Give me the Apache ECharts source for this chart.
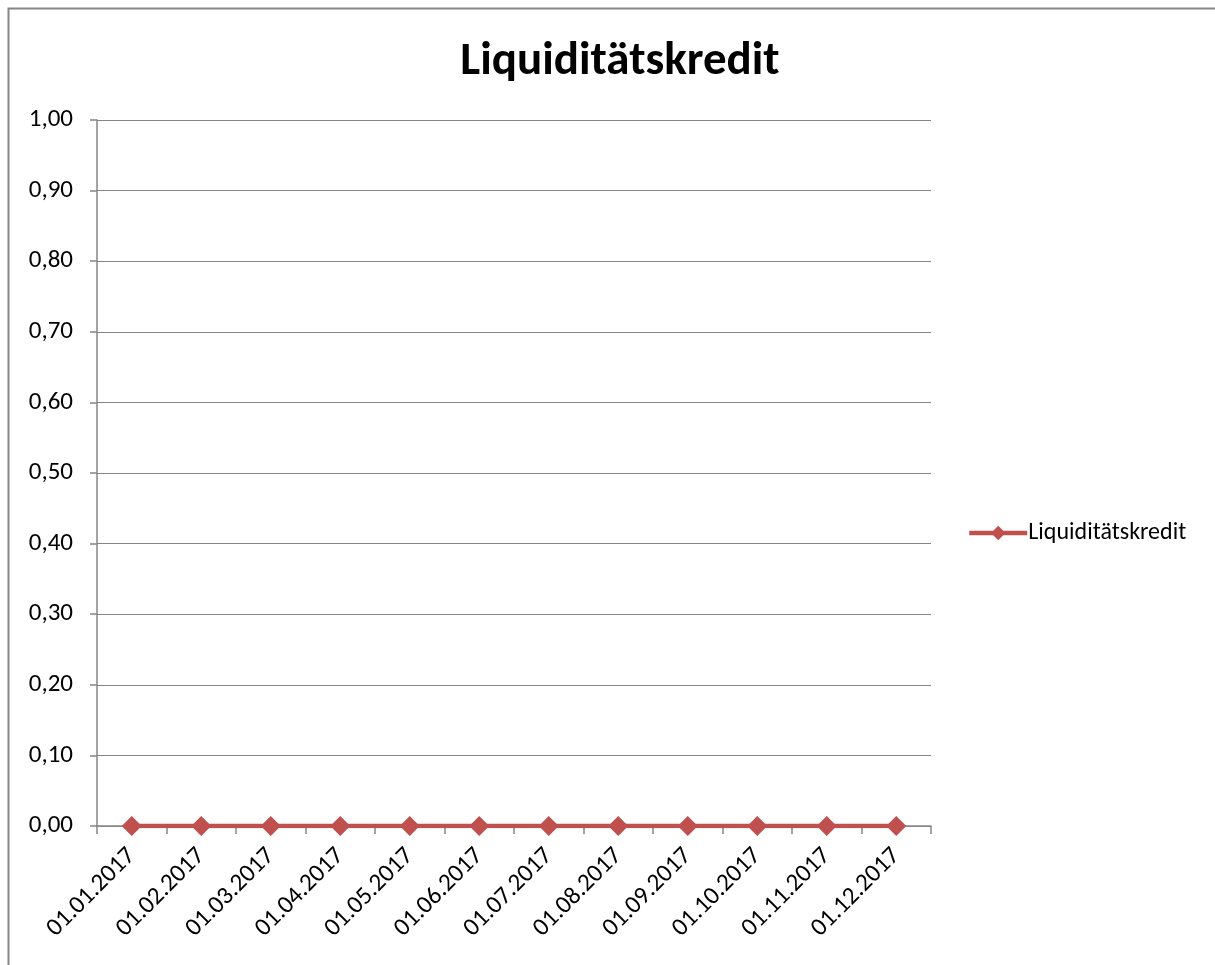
<!DOCTYPE html>
<html>
<head>
<meta charset="utf-8">
<script src="https://cdn.jsdelivr.net/npm/echarts@6/dist/echarts.min.js"></script>
<style>
  html, body { margin: 0; padding: 0; background: #fff; }
  #chart { width: 1215px; height: 965px; }
</style>
</head>
<body>
<div id="chart"></div>
<script>
// data
const categories = ['01.01.2017', '01.02.2017', '01.03.2017', '01.04.2017', '01.05.2017', '01.06.2017',
  '01.07.2017', '01.08.2017', '01.09.2017', '01.10.2017', '01.11.2017', '01.12.2017']
const kreditValues = [0, 0, 0, 0, 0, 0, 0, 0, 0, 0, 0, 0]
const seriesName = 'Liquiditätskredit'

const font = 'Carlito, Lato, "Open Sans", sans-serif'
const gray = '#868686'

const chart = echarts.init(document.getElementById('chart'))
chart.setOption({
  animation: false,
  title: {
    text: 'Liquiditätskredit',
    left: 615,
    top: 34,
    textAlign: 'center',
    textStyle: { fontFamily: font, fontSize: 47, fontWeight: 'bold', color: '#000' }
  },
  graphic: [{
    type: 'rect',
    shape: { x: 8.5, y: 8.5, width: 1400, height: 1100 },
    style: { fill: 'none', stroke: gray, lineWidth: 2 },
    silent: true
  }],
  legend: {
    data: [seriesName],
    orient: 'vertical',
    left: 962,
    top: 516,
    itemWidth: 58,
    itemHeight: 18,
    itemGap: 4,
    lineStyle: { width: 4.5 },
    textStyle: { fontFamily: font, fontSize: 24, color: '#000', padding: [0, 0, 0, -4] }
  },
  grid: { left: 97, right: 284, top: 120, bottom: 139 },
  xAxis: {
    type: 'category',
    data: categories,
    boundaryGap: true,
    axisLine: { lineStyle: { color: gray, width: 1.5 } },
    axisTick: { show: true, length: 8, lineStyle: { color: gray, width: 1.5 } },
    axisLabel: { rotate: 45, fontFamily: font, fontSize: 25, color: '#000', margin: 26, interval: 0 }
  },
  yAxis: {
    type: 'value',
    min: 0,
    max: 1,
    interval: 0.1,
    axisLine: { show: true, lineStyle: { color: gray, width: 1.5 } },
    axisTick: { show: true, length: 7, lineStyle: { color: gray, width: 1.5 } },
    splitLine: { lineStyle: { color: gray, width: 1 } },
    axisLabel: {
      fontFamily: font, fontSize: 25, color: '#000', margin: 24,
      formatter: v => v.toFixed(2).replace('.', ',')
    }
  },
  series: [{
    name: seriesName,
    type: 'line',
    data: kreditValues,
    symbol: 'diamond',
    symbolSize: 20,
    itemStyle: { color: '#C0504D' },
    lineStyle: { color: '#C0504D', width: 4.5 }
  }]
})
</script>
</body>
</html>
